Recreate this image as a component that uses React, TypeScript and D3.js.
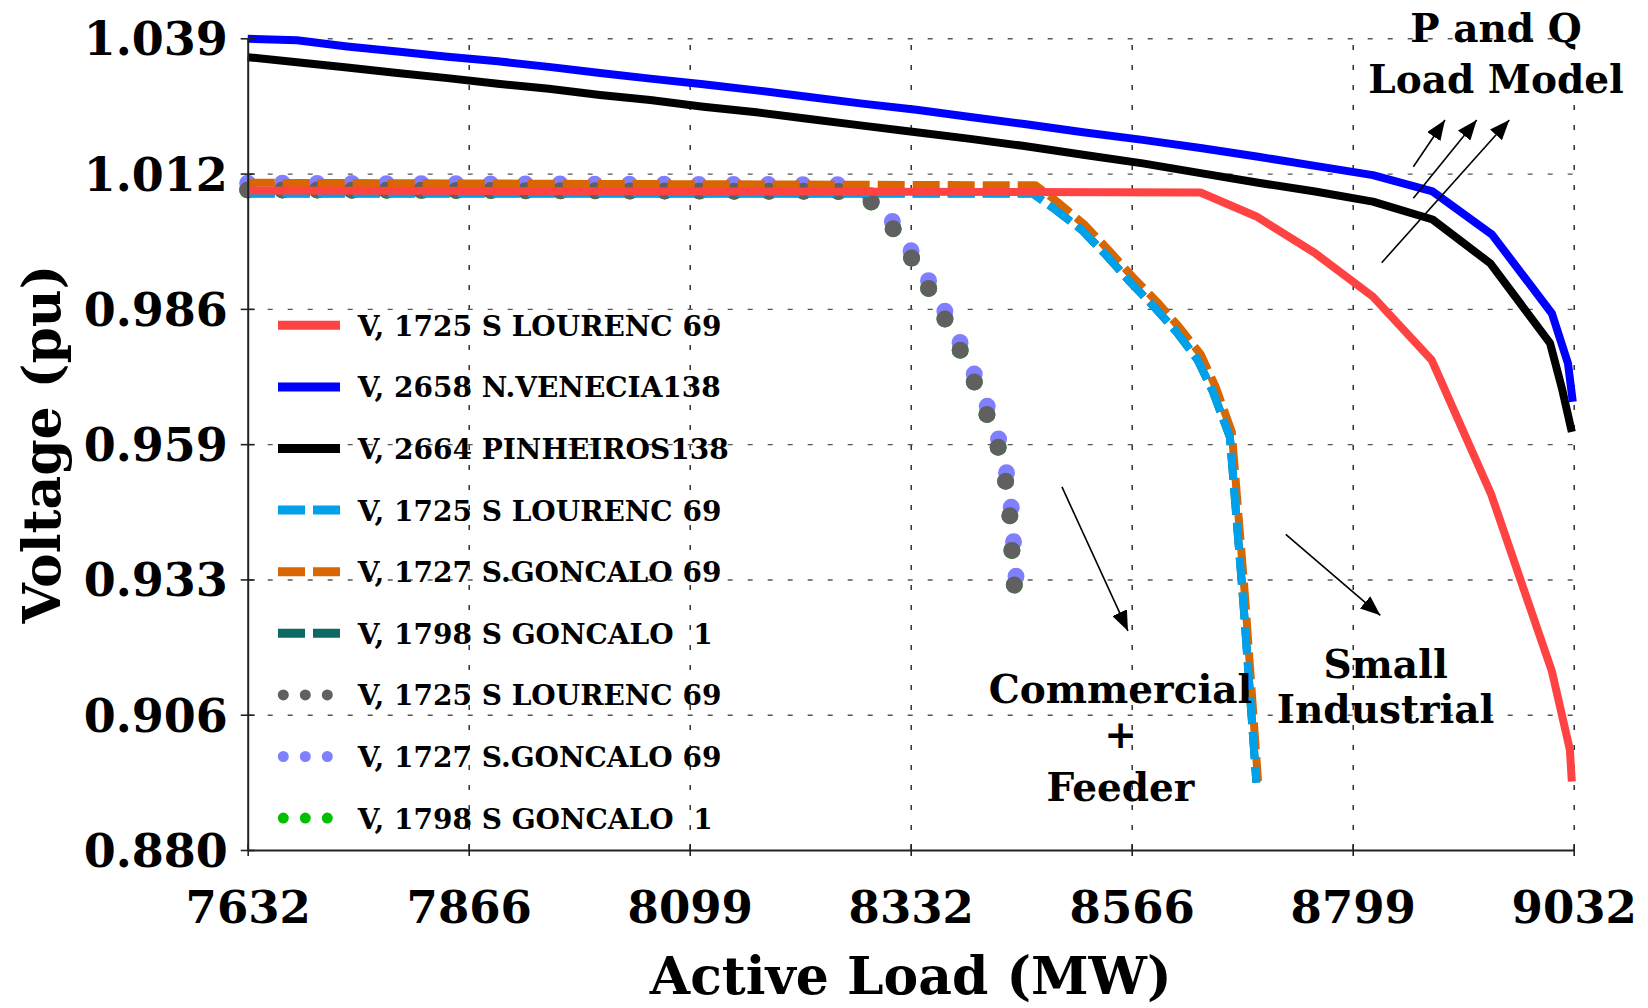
import { useRef, useEffect } from "react";
import * as d3 from "d3";

type Pt = [number, number]; // [active load MW, voltage pu]

// axis ticks
const xTicks = [7632, 7865.33, 8098.67, 8332, 8565.33, 8798.67, 9032];
const xTickLabels = ["7632", "7866", "8099", "8332", "8566", "8799", "9032"];
const yTicks = [0.88, 0.9065, 0.933, 0.9595, 0.986, 1.0125, 1.039];
const yTickLabels = ["0.880", "0.906", "0.933", "0.959", "0.986", "1.012", "1.039"];

// P and Q load model
const pqLourenc69: Pt[] = [
  [7632, 1.0092], [8100, 1.009], [8638, 1.0088], [8697, 1.0041], [8759, 0.9969],
  [8820, 0.9884], [8882, 0.976], [8945, 0.9496], [9009, 0.915], [9028, 0.8996], [9030, 0.8934],
];
const pqVenecia138: Pt[] = [
  [7632, 1.0389], [7684, 1.0386], [7737, 1.0374], [7790, 1.0364], [7843, 1.0354],
  [7896, 1.0345], [7950, 1.0334], [8004, 1.0322], [8057, 1.0311], [8113, 1.03],
  [8169, 1.0288], [8225, 1.0275], [8281, 1.0262], [8338, 1.025], [8395, 1.0236],
  [8452, 1.0222], [8514, 1.0206], [8577, 1.0191], [8638, 1.0175], [8699, 1.0158],
  [8759, 1.014], [8820, 1.0122], [8883, 1.009], [8946, 1.0005], [9009, 0.9851],
  [9026, 0.9753], [9031, 0.9678],
];
const pqPinheiros138: Pt[] = [
  [7632, 1.0353], [7684, 1.0343], [7737, 1.0333], [7790, 1.0322], [7843, 1.0312],
  [7896, 1.0301], [7950, 1.0291], [8004, 1.0279], [8057, 1.0269], [8113, 1.0256],
  [8169, 1.0245], [8225, 1.0232], [8281, 1.0219], [8338, 1.0206], [8395, 1.0193],
  [8452, 1.0179], [8514, 1.0162], [8577, 1.0145], [8638, 1.0126], [8699, 1.0107],
  [8759, 1.009], [8820, 1.007], [8883, 1.0035], [8944, 0.9949], [9007, 0.9793],
  [9020, 0.9701], [9030, 0.9619],
];

// small industrial
const siLourenc69: Pt[] = [
  [7632, 1.0086], [8461, 1.0086], [8485, 1.0054], [8513, 1.0014], [8539, 0.9964],
  [8563.5, 0.9913], [8589, 0.9864], [8613, 0.9814], [8635, 0.976], [8651, 0.9698],
  [8669, 0.9609], [8683, 0.929], [8697, 0.8932],
];
const siGoncalo69: Pt[] = [
  [7632, 1.0107], [8464, 1.0102], [8488.6, 1.0067], [8516, 1.0024], [8542, 0.9973],
  [8566.7, 0.9922], [8592, 0.9874], [8616, 0.9823], [8638.5, 0.977], [8654, 0.9707],
  [8671, 0.9619], [8685, 0.9296], [8698.7, 0.8935],
];
const siGoncalo1: Pt[] = [
  [7632, 1.0086], [8461, 1.0086], [8485, 1.0054], [8513, 1.0014], [8539, 0.9964],
  [8563.5, 0.9913], [8589, 0.9864], [8613, 0.9814], [8635, 0.976], [8651, 0.9698],
  [8669, 0.9609], [8683, 0.929], [8697, 0.8932],
];

// commercial + feeder
const cfLourenc69: Pt[] = [
  [7632, 1.0093], [8262.6, 1.009], [8291, 1.0069], [8314.4, 1.0015], [8333.4, 0.9958],
  [8351.3, 0.9899], [8369.3, 0.9836], [8385, 0.9776], [8400, 0.9713], [8413.6, 0.9648],
  [8425.2, 0.9584], [8432.6, 0.9519], [8437, 0.945], [8439, 0.9382], [8441.4, 0.9319],
];
const cfGoncalo69: Pt[] = [
  [7632, 1.0106], [8262.6, 1.0103], [8293.2, 1.0079], [8316.4, 1.0022], [8335.4, 0.9965],
  [8353.4, 0.9907], [8371.3, 0.9844], [8387, 0.9783], [8402, 0.972], [8415.6, 0.9656],
  [8427.3, 0.9591], [8434.6, 0.9526], [8439, 0.9458], [8441, 0.9389], [8443.2, 0.9336],
];
const cfGoncalo1: Pt[] = [
  [7632, 1.0093], [8262.6, 1.009], [8291, 1.0069], [8314.4, 1.0015], [8333.4, 0.9958],
  [8351.3, 0.9899], [8369.3, 0.9836], [8385, 0.9776], [8400, 0.9713], [8413.6, 0.9648],
  [8425.2, 0.9584], [8432.6, 0.9519], [8437, 0.945], [8439, 0.9382], [8441.4, 0.9319],
];

const seriesNames = [
  "V, 1725 S LOURENC 69",
  "V, 2658 N.VENECIA138",
  "V, 2664 PINHEIROS138",
  "V, 1725 S LOURENC 69",
  "V, 1727 S.GONCALO 69",
  "V, 1798 S GONCALO  1",
  "V, 1725 S LOURENC 69",
  "V, 1727 S.GONCALO 69",
  "V, 1798 S GONCALO  1",
];
const seriesData = [
  pqLourenc69, pqVenecia138, pqPinheiros138,
  siLourenc69, siGoncalo69, siGoncalo1,
  cfLourenc69, cfGoncalo69, cfGoncalo1,
];
const seriesColors = [
  "#ff4242", "#0000ff", "#000000",
  "#00a0ea", "#d96600", "#0c6963",
  "#606060", "#7f7fff", "#00c000",
];
const seriesStyles = ["solid", "solid", "solid", "dash", "dash", "dash", "dot", "dot", "dot"];

// annotations, in data coordinates
const pqArrows: [Pt, Pt][] = [
  [[8862.7, 1.01385], [8896.1, 1.023]],
  [[8862.7, 1.00766], [8929.6, 1.023]],
  [[8829.3, 0.99505], [8964.0, 1.023]],
];
const commercialArrow: [Pt, Pt] = [[8491.7, 0.95112], [8561.4, 0.92292]];
const industrialArrow: [Pt, Pt] = [[8728.0, 0.94182], [8827.8, 0.92596]];
const notes = [
  { mw: 8950, lines: ["P and Q", "Load Model"], v: [1.0383, 1.0283] },
  { mw: 8553.5, lines: ["Commercial", "+", "Feeder"], v: [0.90888, 0.89989, 0.88953] },
  { mw: 8833.4, lines: ["Small", "Industrial"], v: [0.9136, 0.90494] },
];

const FONT = "'DejaVu Serif', serif";

export default function App() {
  const svgRef = useRef<SVGSVGElement>(null);

  useEffect(() => {
    const svg = d3.select(svgRef.current);
    svg.selectAll("*").remove();

    const width = 1648;
    const height = 1008;
    const left = 247.7, right = 1573.7, top = 38.3, bottom = 850;

    svg.attr("width", width).attr("height", height);

    const x = d3.scaleLinear().domain([7632, 9032]).range([left, right]);
    const y = d3.scaleLinear().domain([0.88, 1.039]).range([bottom, top]);

    // arrow head
    svg.append("defs")
      .append("marker")
      .attr("id", "head")
      .attr("markerUnits", "userSpaceOnUse")
      .attr("viewBox", "0 0 20 16")
      .attr("refX", 20)
      .attr("refY", 8)
      .attr("markerWidth", 20)
      .attr("markerHeight", 16)
      .attr("orient", "auto")
      .append("path")
      .attr("d", "M0,0 L20,8 L0,16 Z")
      .attr("fill", "#000");

    // grid
    const gx = svg.append("g")
      .attr("transform", `translate(0,${bottom})`)
      .call(d3.axisBottom(x).tickValues(xTicks.slice(1)).tickSize(-(bottom - top)).tickFormat(() => ""));
    gx.select(".domain").remove();
    gx.selectAll("line")
      .attr("stroke", "#222")
      .attr("stroke-width", 1.4)
      .attr("stroke-dasharray", "5 15");

    const gy = svg.append("g")
      .attr("transform", `translate(${left},0)`)
      .call(d3.axisLeft(y).tickValues(yTicks.slice(1)).tickSize(-(right - left)).tickFormat(() => ""));
    gy.select(".domain").remove();
    gy.selectAll("line")
      .attr("stroke", "#555")
      .attr("stroke-width", 1.4)
      .attr("stroke-dasharray", "5 15");

    // curves, drawn last legend entry first
    const line = d3.line<Pt>().x((d) => x(d[0])).y((d) => y(d[1]));
    const order = d3.range(seriesData.length).reverse();
    order.forEach((i) => {
      const style = seriesStyles[i];
      const p = svg.append("path")
        .datum(seriesData[i])
        .attr("d", line)
        .attr("fill", "none")
        .attr("stroke", seriesColors[i])
        .attr("stroke-linejoin", "round");
      if (style === "solid") {
        p.attr("stroke-width", 8);
      } else if (style === "dash") {
        p.attr("stroke-width", 8).attr("stroke-dasharray", "27 8");
      } else {
        // spread the dots so both ends of the curve get one
        const len = (p.node() as SVGPathElement).getTotalLength();
        const n = Math.max(1, Math.round(len / 35));
        p.attr("stroke-width", 17)
          .attr("stroke-linecap", "round")
          .attr("stroke-dasharray", `0 ${len / n}`);
      }
    });

    // axes
    const ax = svg.append("g")
      .attr("transform", `translate(0,${bottom})`)
      .call(
        d3.axisBottom(x)
          .tickValues(xTicks)
          .tickSizeOuter(0)
          .tickFormat((_, i) => xTickLabels[i])
      );
    ax.select(".domain").attr("stroke", "#222").attr("stroke-width", 2);
    ax.selectAll(".tick line").attr("y1", -6).attr("y2", 6).attr("stroke", "#222").attr("stroke-width", 1.6);
    ax.selectAll(".tick text")
      .attr("y", 73)
      .attr("dy", 0)
      .attr("fill", "#000")
      .attr("font-family", FONT)
      .attr("font-weight", "bold")
      .attr("font-size", 45);

    const ay = svg.append("g")
      .attr("transform", `translate(${left},0)`)
      .call(
        d3.axisLeft(y)
          .tickValues(yTicks)
          .tickSizeOuter(0)
          .tickFormat((_, i) => yTickLabels[i])
      );
    ay.select(".domain").attr("stroke", "#222").attr("stroke-width", 2);
    ay.selectAll(".tick line").attr("x1", -7).attr("x2", 7).attr("stroke", "#222").attr("stroke-width", 1.6);
    ay.selectAll(".tick text")
      .attr("x", -20)
      .attr("dy", "0.36em")
      .attr("fill", "#000")
      .attr("font-family", FONT)
      .attr("font-weight", "bold")
      .attr("font-size", 46);
    ax.attr("font-family", null);
    ay.attr("font-family", null);

    // axis titles
    svg.append("text")
      .attr("x", (left + right) / 2)
      .attr("y", 994)
      .attr("text-anchor", "middle")
      .attr("font-family", FONT)
      .attr("font-weight", "bold")
      .attr("font-size", 52)
      .text("Active Load (MW)");

    svg.append("text")
      .attr("transform", `translate(60,${(top + bottom) / 2}) rotate(-90)`)
      .attr("text-anchor", "middle")
      .attr("font-family", FONT)
      .attr("font-weight", "bold")
      .attr("font-size", 52)
      .text("Voltage (pu)");

    // legend
    const legend = svg.append("g");
    seriesNames.forEach((name, i) => {
      const row = legend.append("g").attr("transform", `translate(0,${325.3 + i * 61.6})`);
      const style = seriesStyles[i];
      const l = row.append("line")
        .attr("x1", style === "dot" ? 283.3 : 278)
        .attr("x2", 340)
        .attr("stroke", seriesColors[i]);
      if (style === "solid") l.attr("stroke-width", 9);
      else if (style === "dash") l.attr("stroke-width", 9).attr("stroke-dasharray", "27 8");
      else l.attr("stroke-width", 11).attr("stroke-linecap", "round").attr("stroke-dasharray", "0 22");

      row.append("text")
        .attr("x", 357.7)
        .attr("y", 10.5)
        .attr("font-family", FONT)
        .attr("font-weight", "bold")
        .attr("font-size", 28)
        .style("white-space", "pre")
        .text(name);
    });

    // annotations
    const arrows = [...pqArrows, commercialArrow, industrialArrow];
    arrows.forEach(([a, b]) => {
      svg.append("line")
        .attr("x1", x(a[0]))
        .attr("y1", y(a[1]))
        .attr("x2", x(b[0]))
        .attr("y2", y(b[1]))
        .attr("stroke", "#000")
        .attr("stroke-width", 1.6)
        .attr("marker-end", "url(#head)");
    });

    notes.forEach((n) => {
      n.lines.forEach((t, i) => {
        svg.append("text")
          .attr("x", x(n.mw))
          .attr("y", y(n.v[i]))
          .attr("text-anchor", "middle")
          .attr("font-family", FONT)
          .attr("font-weight", "bold")
          .attr("font-size", 39)
          .text(t);
      });
    });
  }, []);

  return <svg ref={svgRef} style={{ position: "absolute", left: 0, top: 0, display: "block" }}></svg>;
}
